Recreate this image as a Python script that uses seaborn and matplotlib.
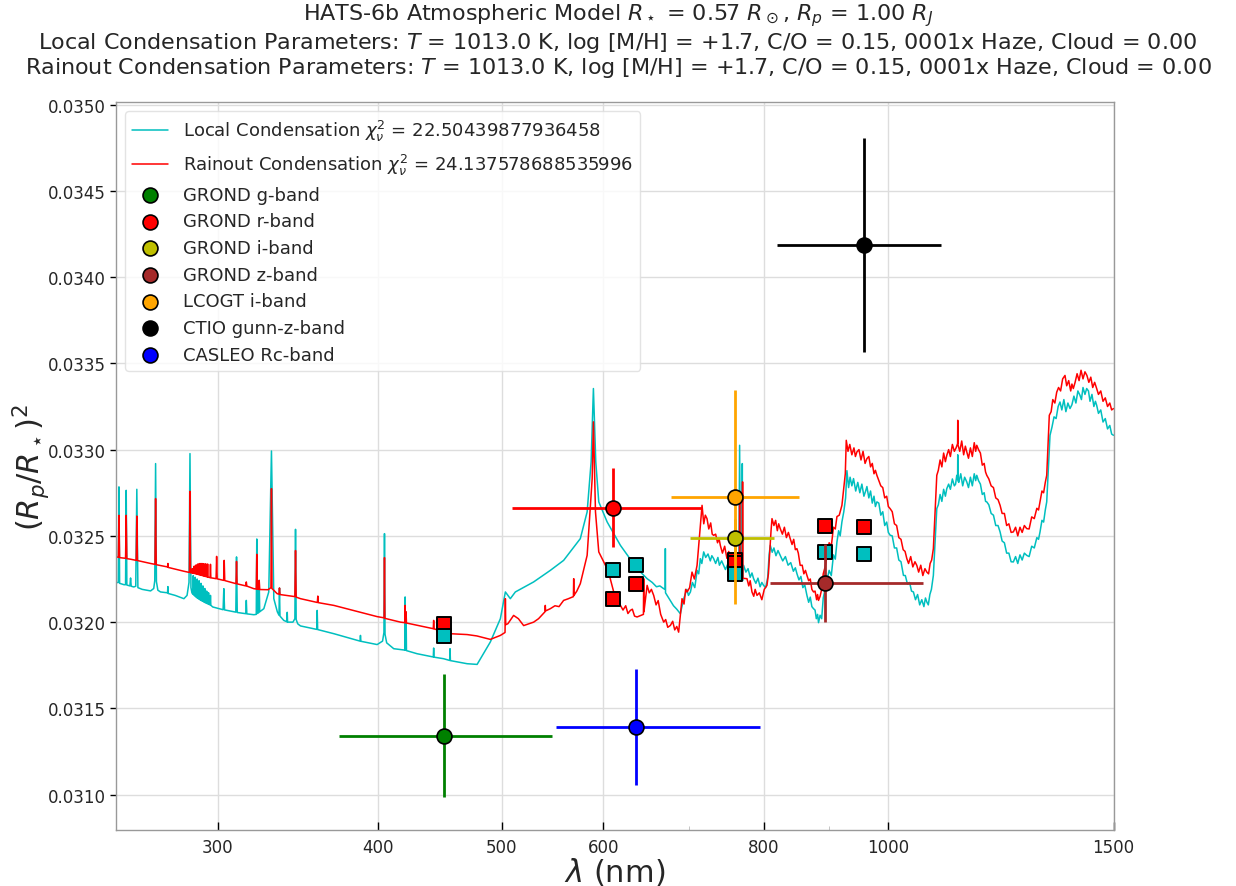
import matplotlib
matplotlib.use("Agg")
import matplotlib.pyplot as plt
import numpy as np
import pandas as pd
import seaborn as sns
from matplotlib.ticker import FixedLocator, NullFormatter, FormatStrFormatter

sns.set_style("whitegrid")
plt.rcParams['font.family'] = ['DejaVu Sans']
plt.rcParams['mathtext.fontset'] = 'dejavusans'

# Model transmission spectra: (wavelength nm, transit depth x 1e4)
local_e4 = [
    (250.0, 322.29), (251.0, 322.30), (251.3, 327.84), (251.6, 322.25), (253.6, 322.17),
    (254.3, 322.17), (254.6, 327.64), (254.9, 322.15), (256.3, 322.10), (256.6, 322.56),
    (256.9, 322.08), (258.1, 322.04), (259.0, 322.08), (259.5, 327.70), (260.0, 322.00),
    (262.0, 321.90), (266.0, 321.81), (267.5, 321.95), (268.0, 322.40), (268.4, 329.19),
    (268.8, 322.35), (269.5, 321.85), (270.8, 321.75), (274.2, 321.70), (274.4, 322.06),
    (274.6, 321.66), (278.0, 321.55), (282.4, 321.36), (284.0, 321.55), (285.0, 322.30),
    (285.5, 329.77), (286.0, 322.00), (286.5, 321.70),
    (287.0, 321.62), (287.2, 322.70), (287.4, 321.58), (288.0, 321.52), (288.2, 322.60),
    (288.4, 321.48), (289.0, 321.42), (289.2, 322.50), (289.4, 321.40), (290.0, 321.35),
    (290.2, 322.40), (290.4, 321.32), (291.0, 321.28), (291.2, 322.25), (291.4, 321.25),
    (292.0, 321.22), (292.2, 322.10), (292.4, 321.20), (293.0, 321.15), (293.2, 321.95),
    (293.4, 321.13), (294.0, 321.10), (294.2, 321.80), (294.4, 321.08), (295.0, 321.05),
    (295.2, 321.70), (295.4, 321.03), (296.0, 321.00), (296.2, 321.55), (296.4, 320.98),
    (297.4, 320.88), (303.0, 320.72), (303.4, 321.94), (303.8, 320.71), (310.0, 320.58),
    (310.4, 323.78), (310.8, 320.56), (315.6, 320.49), (315.9, 321.26), (316.2, 320.48),
    (320.2, 320.43), (321.6, 320.45), (321.9, 324.82), (322.2, 320.50), (323.0, 320.55),
    (323.3, 322.42), (323.6, 320.60), (326.0, 320.78), (328.9, 321.75), (330.5, 329.92),
    (331.9, 321.36), (334.0, 320.60), (335.0, 320.40), (335.3, 321.98), (335.6, 320.35),
    (337.9, 320.10), (339.8, 320.02), (340.0, 320.57), (340.2, 320.00), (343.5, 320.00),
    (344.7, 320.20), (345.1, 325.38), (345.5, 320.15), (346.5, 319.90), (348.2, 319.78),
    (358.5, 319.58), (358.8, 320.68), (359.1, 319.57), (369.7, 319.33), (387.5, 318.90),
    (387.8, 319.23), (388.1, 318.89), (399.6, 318.70), (403.5, 318.90), (404.5, 319.40),
    (404.9, 325.13), (405.3, 319.30), (406.5, 318.80), (411.7, 318.46), (419.9, 318.38),
    (420.2, 321.46), (420.5, 318.37), (420.9, 320.57), (421.2, 318.35), (429.3, 318.17),
    (442.0, 317.98), (442.3, 318.50), (442.6, 317.97), (450.3, 317.88), (455.2, 317.78),
    (455.5, 318.46), (455.8, 317.77), (469.7, 317.59), (478.2, 317.55), (489.7, 318.85),
    (498.6, 320.20), (503.1, 321.75), (507.6, 321.36), (512.2, 321.75), (529.3, 322.33),
    (545.4, 323.00), (558.6, 323.58), (575.6, 324.84), (582.7, 326.39), (586.9, 329.30),
    (589.3, 333.54), (591.8, 329.30), (595.0, 326.97), (604.0, 325.81), (618.6, 324.45),
    (637.4, 323.10), (649.0, 322.52), (668.6, 321.94), (670.4, 321.90), (670.6, 324.26),
    (670.8, 321.70), (672.7, 321.55), (688.9, 320.49), (693.1, 321.36), (701.5, 321.75),
    (714.1, 323.68), (718.4, 324.07), (731.4, 323.68), (744.6, 323.29), (758.1, 322.71),
    (765.2, 322.61), (766.3, 330.25), (767.4, 322.50), (769.6, 322.45), (770.0, 329.19),
    (770.4, 322.40), (771.8, 323.29), (785.8, 322.52), (800.0, 322.13), (809.7, 324.45),
    (824.3, 323.87), (849.4, 322.81), (864.8, 321.55), (875.1, 320.78), (883.0, 319.97),
    (896.4, 322.41), (912.7, 324.65), (920.9, 325.81), (929.2, 328.78), (940.3, 328.32),
    (963.2, 327.86), (980.6, 326.97), (1004.2, 325.04), (1028.5, 322.71), (1047.1, 321.75),
    (1072.6, 321.17), (1085.3, 322.71), (1092.0, 326.58), (1111.8, 327.74), (1131.9, 328.51),
    (1152.4, 328.13), (1173.3, 328.51), (1194.6, 326.97), (1223.5, 325.23), (1253.0, 323.49),
    (1283.5, 323.87), (1314.5, 325.23), (1330.4, 326.97), (1338.3, 330.83), (1362.5, 332.76),
    (1387.2, 332.38), (1412.3, 333.15), (1429.4, 333.54), (1455.3, 332.57), (1500.0, 330.83),
]

# Fine-scale structure of the local-condensation spectrum in the red / near-IR
local_fine_e4 = [
    (655.0, 322.30), (660.0, 322.05), (664.0, 322.10), (676.5, 321.25), (680.5, 320.95),
    (684.5, 320.75), (697.0, 321.90), (699.0, 321.55), (704.0, 322.30), (707.0, 322.00),
    (710.0, 323.00), (712.0, 322.80), (716.0, 323.40), (721.0, 323.75), (724.0, 323.95),
    (727.0, 323.55), (729.0, 323.85), (734.0, 323.40), (737.0, 323.75), (739.0, 323.30),
    (742.0, 323.55), (747.0, 323.05), (750.0, 323.35), (753.0, 322.85), (755.5, 323.05),
    (761.0, 322.95), (763.0, 322.55), (775.0, 322.90), (778.0, 323.10), (781.0, 322.60),
    (783.5, 322.85), (789.0, 322.25), (792.0, 322.55), (795.0, 322.05), (797.5, 322.30),
    (803.0, 322.00), (806.0, 322.60), (808.0, 323.90), (812.5, 324.05), (815.0, 324.30),
    (818.0, 323.85), (821.0, 324.15), (828.0, 323.55), (832.0, 323.80), (836.0, 323.30),
    (840.0, 323.45), (844.0, 322.95), (847.0, 323.15), (852.5, 322.45), (855.5, 322.65),
    (858.5, 322.00), (861.5, 322.15), (867.5, 321.15), (870.0, 321.45), (872.5, 320.90),
    (877.5, 320.70), (879.5, 320.20), (881.5, 320.45), (885.5, 320.40), (888.0, 320.20),
    (890.5, 321.40), (893.5, 321.90), (900.0, 323.00), (903.5, 322.70), (907.0, 323.90),
    (910.0, 323.65), (915.5, 325.30), (918.0, 325.00), (924.0, 326.40), (927.0, 327.20),
    (932.0, 327.80), (934.5, 328.40), (937.5, 327.90), (944.0, 327.60), (947.5, 328.10),
    (951.0, 327.50), (954.5, 328.00), (958.0, 327.30), (961.0, 327.60), (966.5, 327.20),
    (969.5, 327.60), (972.5, 326.90), (975.5, 327.30), (978.0, 326.70), (984.0, 326.90),
    (987.5, 326.20), (991.0, 326.40), (994.5, 325.60), (998.0, 325.80), (1001.0, 325.20),
    (1008.0, 325.00), (1012.0, 324.30), (1016.0, 324.30), (1020.0, 323.60), (1024.0, 323.50),
    (1032.0, 322.70), (1036.0, 322.20), (1040.0, 322.30), (1043.5, 321.80), (1051.0, 321.30),
    (1055.0, 321.60), (1059.0, 321.00), (1063.0, 321.30), (1067.0, 320.90), (1070.0, 321.40),
    (1075.5, 321.00), (1078.5, 321.60), (1081.5, 321.90), (1095.0, 326.80), (1098.5, 327.40),
    (1102.0, 327.00), (1105.5, 327.70), (1109.0, 327.30), (1115.5, 328.00), (1119.0, 327.70),
    (1123.0, 328.30), (1127.0, 327.90), (1129.5, 328.00), (1133.6, 328.30), (1133.9, 329.70),
    (1134.2, 328.20), (1136.0, 328.10), (1140.0, 328.60), (1144.0, 327.90), (1148.0, 328.40),
    (1156.0, 327.80), (1160.0, 328.40), (1164.0, 327.90), (1168.0, 328.60), (1171.0, 328.20),
    (1177.0, 328.20), (1181.0, 328.00), (1185.0, 327.40), (1189.0, 327.50), (1192.0, 327.00),
    (1199.0, 326.80), (1204.0, 326.30), (1209.0, 326.20), (1214.0, 325.60), (1219.0, 325.60),
    (1228.0, 324.70), (1233.0, 324.60), (1238.0, 324.00), (1243.0, 324.00), (1248.0, 323.50),
    (1258.0, 323.80), (1263.0, 323.40), (1268.0, 323.90), (1273.0, 323.60), (1278.0, 324.00),
    (1289.0, 323.80), (1295.0, 324.40), (1301.0, 324.30), (1307.0, 324.90), (1311.0, 324.80),
    (1319.0, 325.90), (1323.0, 325.80), (1327.0, 326.50), (1343.0, 331.30), (1348.0, 331.90),
    (1353.0, 331.80), (1358.0, 332.50), (1367.0, 332.30), (1372.0, 332.90), (1377.0, 332.20),
    (1382.0, 332.70), (1392.0, 332.60), (1397.0, 333.10), (1402.0, 332.70), (1407.0, 333.40),
    (1416.0, 332.90), (1420.0, 333.60), (1425.0, 333.20), (1434.0, 333.40), (1438.0, 332.80),
    (1443.0, 333.20), (1448.0, 332.50), (1452.0, 332.80), (1460.0, 332.10), (1466.0, 332.30),
    (1472.0, 331.60), (1478.0, 331.80), (1484.0, 331.20), (1490.0, 331.40), (1495.0, 330.90),
]

rainout_e4 = [
    (250.0, 323.78), (251.0, 323.76), (251.3, 326.19), (251.6, 323.74), (254.3, 323.70),
    (254.6, 326.19), (254.9, 323.68), (256.5, 323.65), (259.2, 323.58), (259.5, 326.15),
    (259.8, 323.57), (266.0, 323.40), (268.1, 323.35), (268.4, 327.16), (268.7, 323.33),
    (274.2, 323.20), (274.4, 323.40), (274.6, 323.17), (282.4, 322.95), (285.2, 322.88),
    (285.5, 327.58), (285.8, 322.86),
    (286.5, 322.85), (286.7, 323.10), (286.9, 322.84), (287.5, 322.83), (287.7, 323.25),
    (287.9, 322.82), (288.5, 322.80), (288.7, 323.32), (288.9, 322.79), (289.5, 322.77),
    (289.7, 323.38), (289.9, 322.76), (290.5, 322.74), (290.7, 323.40), (290.9, 322.73),
    (291.5, 322.71), (291.7, 323.40), (291.9, 322.70), (292.5, 322.68), (292.7, 323.39),
    (292.9, 322.67), (293.5, 322.65), (293.7, 323.38), (293.9, 322.64), (294.5, 322.62),
    (294.7, 323.37), (294.9, 322.61), (296.0, 322.58), (296.2, 323.35), (296.4, 322.57),
    (299.2, 322.52), (299.5, 323.81), (299.8, 322.51), (303.3, 322.42), (303.6, 323.58),
    (303.9, 322.41), (310.1, 322.23), (310.4, 323.52), (310.7, 322.22), (315.6, 322.10),
    (315.9, 322.33), (316.2, 322.09), (320.2, 321.94), (321.6, 321.92), (321.9, 323.93),
    (322.2, 321.91), (323.0, 321.90), (323.3, 322.42), (323.6, 321.89), (328.5, 321.88),
    (330.2, 322.00), (330.5, 327.74), (330.8, 321.95), (333.9, 321.65), (335.0, 321.62),
    (335.3, 321.98), (335.6, 321.60), (344.7, 321.48), (345.1, 324.15), (345.5, 321.45),
    (348.2, 321.36), (358.9, 321.14), (359.2, 321.51), (359.5, 321.13), (369.7, 320.97),
    (387.8, 320.57), (399.6, 320.32), (404.6, 320.25), (404.9, 323.74), (405.2, 320.22),
    (416.7, 320.00), (419.9, 319.97), (420.2, 320.97), (420.5, 319.96), (420.9, 320.60),
    (421.2, 319.95), (442.0, 319.62), (442.3, 320.10), (442.6, 319.61), (455.5, 319.33),
    (469.7, 319.28), (478.0, 319.20), (489.7, 319.00), (498.6, 319.23), (502.8, 319.40),
    (503.1, 321.36), (503.4, 319.85), (505.4, 319.91), (510.6, 320.39), (519.9, 319.80),
    (529.3, 320.00), (540.2, 320.60), (540.5, 320.97), (540.8, 320.65), (545.4, 320.78),
    (558.6, 321.26), (568.5, 321.48), (568.8, 322.52), (569.1, 321.55), (575.6, 322.23),
    (582.7, 323.87), (588.0, 328.32), (589.3, 331.61), (591.5, 326.39), (595.0, 324.07),
    (604.0, 323.10), (611.2, 321.75), (618.6, 320.97), (629.7, 320.68), (637.4, 320.30),
    (644.7, 320.45), (645.0, 322.52), (645.3, 320.60), (649.0, 322.13), (656.7, 321.55),
    (668.6, 320.00), (676.7, 319.81), (686.8, 319.42), (691.0, 321.36), (697.3, 321.75),
    (709.9, 323.29), (716.3, 326.77), (722.7, 326.00), (731.4, 325.03), (740.2, 324.45),
    (753.6, 323.68), (762.7, 322.71), (766.0, 322.60), (766.3, 327.00), (766.6, 322.58),
    (770.1, 322.55), (770.4, 328.13), (770.7, 322.54), (776.5, 322.52), (783.5, 321.75),
    (790.6, 321.55), (804.9, 322.13), (812.2, 326.00), (824.3, 325.42), (839.2, 324.84),
    (849.4, 324.26), (854.4, 323.29), (864.8, 322.71), (875.1, 321.75), (883.0, 321.26),
    (896.4, 323.80), (912.7, 326.12), (920.9, 326.77), (928.1, 330.54), (946.1, 329.87),
    (963.2, 329.48), (980.6, 328.51), (1004.2, 326.58), (1034.8, 323.68), (1053.5, 323.29),
    (1072.6, 322.90), (1085.3, 324.26), (1092.0, 328.51), (1111.8, 329.67), (1133.6, 330.35),
    (1133.9, 331.70), (1134.2, 330.30), (1152.4, 329.87), (1173.3, 330.25), (1194.6, 328.51),
    (1223.5, 326.77), (1253.0, 325.23), (1283.5, 325.42), (1314.5, 326.97), (1330.4, 328.51),
    (1336.6, 331.99), (1354.5, 333.33), (1374.8, 334.30), (1395.5, 333.54), (1425.0, 334.51),
    (1455.3, 333.54), (1500.0, 332.38),
]

# Fine-scale structure of the rainout spectrum
rainout_fine_e4 = [
    (515.0, 320.20), (524.5, 319.90), (534.0, 320.20), (550.0, 320.95), (554.0, 320.90),
    (563.0, 321.35), (572.0, 321.80), (607.0, 322.60), (609.0, 322.20), (614.0, 321.40),
    (616.0, 321.30), (621.5, 320.70), (624.5, 320.95), (627.0, 320.50), (632.0, 320.75),
    (634.5, 320.35), (651.5, 321.70), (654.0, 321.90), (659.5, 321.00), (662.0, 321.25),
    (665.0, 320.45), (671.0, 320.15), (673.5, 319.70), (679.5, 320.05), (682.0, 319.55),
    (684.5, 319.75), (693.5, 321.05), (695.5, 321.90), (700.5, 322.00), (703.5, 322.90),
    (706.5, 322.50), (718.5, 325.70), (720.5, 326.20), (725.0, 325.40), (727.5, 325.75),
    (729.5, 325.10), (734.0, 325.10), (736.5, 324.60), (738.5, 324.85), (743.0, 324.00),
    (746.0, 324.40), (749.0, 323.70), (751.5, 324.10), (756.0, 323.30), (758.5, 323.50),
    (760.5, 322.90), (779.0, 322.10), (781.0, 322.40), (786.0, 321.50), (788.0, 321.90),
    (794.0, 321.70), (797.5, 321.30), (801.0, 321.90), (807.0, 322.80), (809.5, 324.50),
    (810.8, 325.30), (815.0, 325.60), (817.5, 325.90), (820.0, 325.30), (822.0, 325.70),
    (827.5, 325.10), (830.5, 325.50), (833.5, 324.90), (836.5, 325.20), (842.0, 324.50),
    (844.5, 324.80), (847.0, 324.20), (851.5, 324.00), (857.5, 323.30), (860.0, 322.80),
    (862.5, 323.00), (867.5, 322.40), (870.0, 322.50), (872.5, 321.90), (877.5, 321.80),
    (880.0, 321.30), (881.5, 321.60), (885.5, 321.50), (888.0, 321.90), (890.5, 322.80),
    (893.5, 323.20), (900.0, 324.60), (903.5, 324.40), (907.0, 325.50), (910.0, 325.40),
    (916.5, 326.20), (924.0, 327.80), (926.5, 328.60), (931.0, 329.90), (934.0, 330.30),
    (937.5, 329.70), (941.0, 330.10), (943.5, 329.60), (949.5, 330.00), (953.0, 329.40),
    (956.5, 329.90), (960.0, 329.20), (966.5, 329.60), (969.5, 329.00), (972.5, 329.20),
    (975.5, 328.60), (978.0, 328.80), (984.0, 328.20), (987.5, 327.90), (991.0, 327.80),
    (994.5, 327.20), (998.0, 327.30), (1001.0, 326.70), (1008.0, 326.40), (1012.0, 325.70),
    (1016.0, 325.60), (1020.0, 324.90), (1024.0, 324.80), (1028.0, 324.20), (1031.5, 324.10),
    (1038.0, 323.40), (1042.0, 323.80), (1046.0, 323.20), (1050.0, 323.50), (1057.0, 322.90),
    (1061.0, 323.30), (1065.0, 322.70), (1069.0, 323.10), (1076.0, 322.80), (1079.0, 323.40),
    (1082.0, 323.60), (1095.0, 328.80), (1098.5, 329.40), (1102.0, 329.00), (1105.5, 329.80),
    (1109.0, 329.30), (1115.5, 330.00), (1119.0, 329.60), (1123.0, 330.30), (1127.0, 329.90),
    (1130.5, 330.10), (1138.0, 329.90), (1142.0, 330.50), (1146.0, 329.70), (1149.5, 330.20),
    (1156.0, 329.50), (1160.0, 330.10), (1164.0, 329.60), (1168.0, 330.40), (1171.0, 329.90),
    (1177.0, 330.00), (1181.0, 329.80), (1185.0, 329.10), (1189.0, 329.20), (1192.0, 328.70),
    (1199.0, 328.30), (1204.0, 327.90), (1209.0, 327.80), (1214.0, 327.20), (1219.0, 327.10),
    (1228.0, 326.30), (1233.0, 326.30), (1238.0, 325.60), (1243.0, 325.70), (1248.0, 325.20),
    (1258.0, 325.50), (1263.0, 325.00), (1268.0, 325.50), (1273.0, 325.20), (1278.0, 325.60),
    (1289.0, 325.40), (1295.0, 326.10), (1301.0, 326.00), (1307.0, 326.60), (1311.0, 326.50),
    (1319.0, 327.60), (1323.0, 327.50), (1327.0, 328.10), (1341.0, 332.20), (1345.0, 332.90),
    (1350.0, 332.70), (1359.0, 333.60), (1364.0, 333.40), (1369.0, 334.10), (1379.0, 333.70),
    (1384.0, 334.00), (1389.0, 333.40), (1392.0, 333.80), (1400.0, 333.90), (1405.0, 334.40),
    (1410.0, 334.00), (1415.0, 334.60), (1420.0, 334.10), (1430.0, 334.30), (1435.0, 333.90),
    (1440.0, 334.20), (1445.0, 333.60), (1450.0, 333.90), (1460.0, 333.20), (1466.0, 333.40),
    (1472.0, 332.80), (1478.0, 333.00), (1484.0, 332.50), (1490.0, 332.70), (1495.0, 332.30),
]

# Photometric transit depths
band_names = ["GROND g-band", "GROND r-band", "GROND i-band", "GROND z-band",
              "LCOGT i-band", "CTIO gunn-z-band", "CASLEO Rc-band"]
band_colors = ["g", "r", "y", "brown", "orange", "k", "b"]
band_wl = [450.5, 610.1, 759.4, 892.6, 760.4, 958.6, 636.1]
band_lo = [373.0, 509.0, 701.0, 809.6, 676.9, 818.8, 550.8]
band_hi = [547.0, 716.0, 814.6, 1064.8, 853.3, 1099.9, 795.0]
band_depth = [0.031342, 0.032664, 0.032490, 0.032227, 0.032726, 0.034188, 0.031392]
band_err = [0.000357, 0.000229, 0.000110, 0.000226, 0.000620, 0.000620, 0.000337]

# Models integrated over each band
rainout_binned = [0.031987, 0.032136, 0.032360, 0.032558, 0.032340, 0.032552, 0.032219]
local_binned = [0.031918, 0.032304, 0.032300, 0.032407, 0.032280, 0.032397, 0.032333]

chi_local = 22.50439877936458
chi_rainout = 24.137578688535996


def spectrum_frame(*parts):
    df = pd.DataFrame([p for part in parts for p in part], columns=["wl", "d"])
    df["d"] *= 1e-4
    return df.sort_values("wl").reset_index(drop=True)


local_df = spectrum_frame(local_e4, local_fine_e4)
rain_df = spectrum_frame(rainout_e4, rainout_fine_e4)

fig = plt.figure(figsize=(12.36, 8.87), dpi=100)
ax = fig.add_axes([0.0939, 0.0631, 0.8070, 0.8208])

sns.lineplot(data=local_df, x="wl", y="d", sort=False, estimator=None, color="c",
             lw=1.1, ax=ax, label=r"Local Condensation $\chi^2_\nu$ = " + str(chi_local), zorder=2)
sns.lineplot(data=rain_df, x="wl", y="d", sort=False, estimator=None, color="r",
             lw=1.1, ax=ax, label=r"Rainout Condensation $\chi^2_\nu$ = " + str(chi_rainout), zorder=2)

for i in range(len(band_names)):
    ax.scatter([band_wl[i]], [rainout_binned[i]], marker="s", s=115, color="r",
               edgecolor="k", linewidth=1.4, zorder=3)
    ax.scatter([band_wl[i]], [local_binned[i]], marker="s", s=115, color="c",
               edgecolor="k", linewidth=1.4, zorder=3)

for i in range(len(band_names)):
    xerr = [[band_wl[i] - band_lo[i]], [band_hi[i] - band_wl[i]]]
    ax.errorbar([band_wl[i]], [band_depth[i]], xerr=xerr, yerr=[band_err[i]],
                fmt="none", ecolor=band_colors[i], elinewidth=2.0, capsize=0, zorder=4)
    ax.scatter([band_wl[i]], [band_depth[i]], marker="o", s=115, color=band_colors[i],
               edgecolor="k", linewidth=1.2, zorder=5, label=band_names[i])

ax.set_xscale("log")
ax.set_xlim(250, 1500)
ax.set_ylim(0.030795, 0.035015)
ax.xaxis.set_major_locator(FixedLocator([300, 400, 500, 600, 800, 1000, 1500]))
ax.xaxis.set_major_formatter(FormatStrFormatter("%d"))
ax.xaxis.set_minor_locator(FixedLocator([700, 900]))
ax.xaxis.set_minor_formatter(NullFormatter())
ax.yaxis.set_major_locator(FixedLocator(np.arange(0.0310, 0.03501, 0.0005)))
ax.yaxis.set_major_formatter(FormatStrFormatter("%.4f"))

ax.grid(True, which="major", color="#dddddd", lw=1.0)
for s in ax.spines.values():
    s.set_color("#999999")
    s.set_linewidth(1.0)
ax.tick_params(axis="x", which="major", direction="in", length=6, width=1, color="k",
               labelsize=12, pad=6, bottom=True)
ax.tick_params(axis="x", which="minor", direction="in", length=3, width=0.6, color="#bbbbbb", bottom=True)
ax.tick_params(axis="y", which="major", direction="out", length=4, width=1, color="k",
               labelsize=12, left=True)

ax.set_xlabel(r"$\lambda$ (nm)", fontsize=22, labelpad=-1)
ax.set_ylabel(r"$(R_p/R_\star)^2$", fontsize=22)
ax.yaxis.set_label_coords(-0.064, 0.5)

title = (r"HATS-6b Atmospheric Model $R_\star$ = 0.57 $R_\odot$, $R_p$ = 1.00 $R_J$" "\n"
         r"Local Condensation Parameters: $T$ = 1013.0 K, log [M/H] = +1.7, C/O = 0.15, 0001x Haze, Cloud = 0.00" "\n"
         r"Rainout Condensation Parameters: $T$ = 1013.0 K, log [M/H] = +1.7, C/O = 0.15, 0001x Haze, Cloud = 0.00")
fig.text(0.5, 0.997, title, ha="center", va="top", fontsize=16, linespacing=1.08)

leg = ax.legend(loc="upper left", fontsize=13, frameon=True, framealpha=0.8,
                edgecolor="#dddddd", borderaxespad=0.5, handlelength=2.0, labelspacing=0.48)

fig.savefig("out.png", dpi=100)
